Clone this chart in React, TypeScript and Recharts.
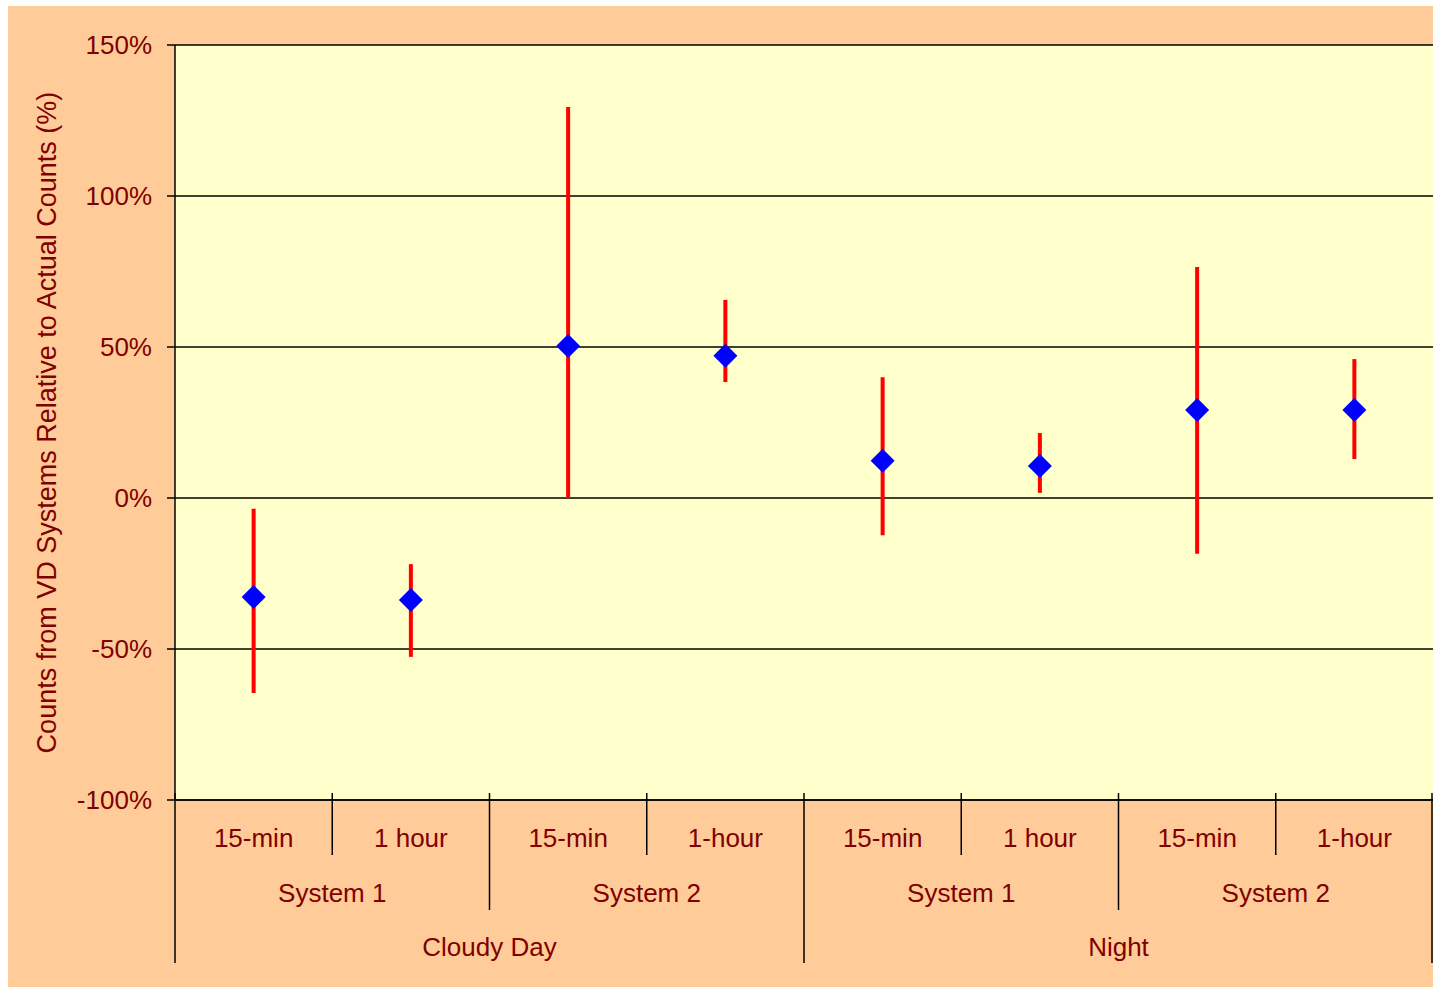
import { CartesianGrid, ComposedChart, ErrorBar, Scatter, XAxis, YAxis } from "recharts";

const intervals = ["15-min", "1 hour", "15-min", "1-hour", "15-min", "1 hour", "15-min", "1-hour"];
const systems = ["System 1", "System 2", "System 1", "System 2"];
const conditions = ["Cloudy Day", "Night"];

const meanPct = [-32.8, -33.8, 50.3, 47.1, 12.3, 10.6, 29.1, 29.1];
const highPct = [-3.6, -21.9, 129.5, 65.6, 40, 21.5, 76.5, 46];
const lowPct = [-64.6, -52.6, 0, 38.4, -12.3, 1.7, -18.5, 12.9];

const yTicks = [-100, -50, 0, 50, 100, 150];

const data = intervals.map((_, i) => ({
  pos: i,
  mean: meanPct[i],
  err: [meanPct[i] - lowPct[i], highPct[i] - meanPct[i]],
}));
const xTicks = data.map((d) => d.pos);

const W = 1425;
const H = 981;
const LEFT = 167;
const TOP = 39;
const BOTTOM = 187;
const band = (W - LEFT) / intervals.length;

const FONT = '"Liberation Sans", Arial, sans-serif';
const TEXT = "#800000";

const Diamond = (props: any) => {
  const { cx, cy } = props;
  const r = 12;
  return (
    <polygon
      points={`${cx},${cy - r} ${cx + r},${cy} ${cx},${cy + r} ${cx - r},${cy}`}
      fill="#0000FF"
    />
  );
};

const MultiTick = (props: any) => {
  const { x, y, payload } = props;
  const index = payload.value as number;
  const left = x - band / 2;
  // how far the separator at the left edge of this category goes down
  const depth = index % 4 === 0 ? 163 : index % 2 === 0 ? 110 : 55;
  const items = [
    <line key="sep" x1={left} y1={y - 7} x2={left} y2={y + depth} stroke="#000" strokeWidth={1.5} />,
    <text key="l1" x={x} y={y + 47} textAnchor="middle" fill={TEXT} fontSize={26} fontFamily={FONT}>
      {intervals[index]}
    </text>,
  ];
  if (index % 2 === 0) {
    items.push(
      <text key="l2" x={x + band / 2} y={y + 102} textAnchor="middle" fill={TEXT} fontSize={26} fontFamily={FONT}>
        {systems[index / 2]}
      </text>
    );
  }
  if (index % 4 === 0) {
    items.push(
      <text key="l3" x={x + band * 1.5} y={y + 156} textAnchor="middle" fill={TEXT} fontSize={26} fontFamily={FONT}>
        {conditions[index / 4]}
      </text>
    );
  }
  if (index === intervals.length - 1) {
    items.push(
      <line key="end" x1={x + band / 2 - 1} y1={y - 7} x2={x + band / 2 - 1} y2={y + 163} stroke="#000" strokeWidth={1.5} />
    );
  }
  return <g>{items}</g>;
};

const YTitle = (props: any) => {
  const { viewBox } = props;
  const cx = viewBox.x + 39;
  const cy = viewBox.y + viewBox.height / 2;
  return (
    <text
      x={cx}
      y={cy}
      transform={`rotate(-90, ${cx}, ${cy})`}
      textAnchor="middle"
      dominantBaseline="central"
      fill={TEXT}
      fontSize={27}
      fontFamily={FONT}
    >
      Counts from VD Systems Relative to Actual Counts (%)
    </text>
  );
};

export default function App() {
  return (
    <div style={{ position: "fixed", left: 8, top: 6, width: W, height: H, background: "#FFCC99" }}>
      <ComposedChart
        width={W}
        height={H}
        data={data}
        margin={{ top: TOP, right: 0, left: 0, bottom: 0 }}
      >
        <CartesianGrid
          vertical={false}
          fill="#FFFFCC"
          fillOpacity={1}
          stroke="#000"
          strokeWidth={1.5}
        />
        <XAxis
          dataKey="pos"
          type="number"
          domain={[-0.5, intervals.length - 0.5]}
          ticks={xTicks}
          allowDataOverflow
          height={BOTTOM}
          tickSize={0}
          tickMargin={0}
          tickLine={false}
          axisLine={{ stroke: "#000", strokeWidth: 1.5 }}
          tick={<MultiTick />}
          interval={0}
        />
        <YAxis
          width={LEFT}
          domain={[-100, 150]}
          ticks={yTicks}
          allowDataOverflow
          tickFormatter={(v: number) => `${v}%`}
          tickSize={8}
          tickMargin={15}
          tickLine={{ stroke: "#000", strokeWidth: 1.5 }}
          axisLine={{ stroke: "#000", strokeWidth: 1.5 }}
          tick={{ fill: TEXT, fontSize: 26, fontFamily: FONT }}
          label={<YTitle />}
        />
        <Scatter dataKey="mean" shape={<Diamond />} isAnimationActive={false}>
          <ErrorBar dataKey="err" direction="y" width={0} stroke="#FF0000" strokeWidth={4} isAnimationActive={false} />
        </Scatter>
      </ComposedChart>
    </div>
  );
}
